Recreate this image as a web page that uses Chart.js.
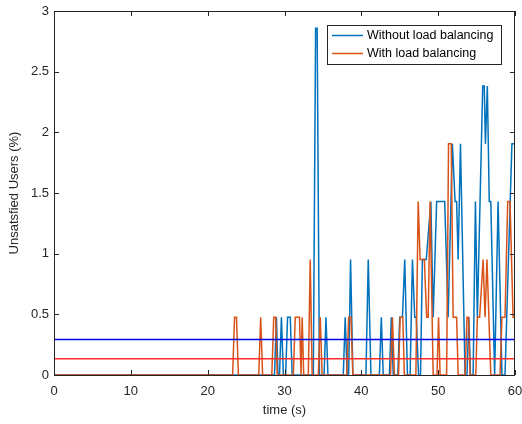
<!DOCTYPE html>
<html>
<head>
<meta charset="utf-8">
<script src="https://cdn.jsdelivr.net/npm/chart.js@4/dist/chart.umd.min.js"></script>
<style>
  html, body { margin: 0; padding: 0; background: #fff; }
  #wrap { width: 522px; height: 424px; position: relative; }
</style>
</head>
<body>
<div id="wrap"><canvas id="c"></canvas></div>
<script>
// series (time in s, unsatisfied users in %)
const blueTimes = [0, 28.7, 28.95, 29.15, 29.35, 29.6, 29.85, 30.15, 30.4, 30.75, 31.0, 33.75, 34.05, 34.25, 34.55,
  35.15, 35.4, 35.65, 37.65, 37.9, 38.15, 38.35, 38.6, 38.9, 40.6, 40.9, 41.25, 42.35, 42.6, 42.85, 43.65, 43.9, 44.15,
  44.75, 45.0, 45.35, 45.65, 46.0, 46.35, 46.65, 46.95, 47.15, 47.45, 47.7, 47.95, 48.45, 49.05, 49.35, 49.8, 50.85,
  51.3, 51.85, 52.2, 52.4, 52.6, 52.9, 53.5, 53.75, 54.0, 54.2, 54.55, 54.85, 55.1, 55.8, 56.0, 56.15, 56.4, 56.65,
  56.85, 57.35, 57.8, 58.3, 58.7, 59.6, 60];
const blueValues = [0, 0, 0.476, 0, 0, 0.476, 0, 0, 0.476, 0.476, 0, 0, 2.857, 2.857, 0,
  0, 0.476, 0, 0, 0.476, 0, 0, 0.952, 0, 0, 0.952, 0, 0, 0.476, 0, 0, 0.476, 0,
  0, 0.476, 0.476, 0.952, 0, 0, 0.952, 0.476, 0.476, 0, 0, 0.952, 0.952, 1.429, 0.476, 1.429, 1.429,
  0.476, 1.905, 1.429, 1.429, 0.952, 1.905, 0, 0, 0.476, 0, 0, 1.429, 0.476, 2.381, 2.381, 1.905, 2.381, 1.429,
  1.429, 0, 1.429, 0, 0, 1.905, 1.905];

const orangeTimes = [0, 23.25, 23.5, 23.75, 24.0, 26.65, 26.9, 27.15, 28.35, 28.6, 28.85, 29.05, 31.15, 31.4, 31.95,
  32.15, 32.3, 32.5, 33.1, 33.35, 33.6, 34.4, 34.65, 34.9, 38.1, 38.35, 38.65, 38.9, 43.8, 44.05, 44.3, 44.85, 45.05,
  45.4, 45.6, 47.1, 47.4, 47.65, 48.2, 48.5, 48.7, 48.95, 49.35, 49.85, 50.05, 50.25, 51.1, 51.35, 51.7, 51.95, 52.4,
  52.6, 53.5, 53.75, 53.95, 54.15, 54.9, 55.1, 55.4, 55.85, 56.1, 56.35, 56.6, 56.85, 58.05, 58.3, 58.7, 59.05, 59.35,
  59.75, 60];
const orangeValues = [0, 0, 0.476, 0.476, 0, 0, 0.476, 0, 0, 0.476, 0.476, 0, 0, 0.476, 0.476,
  0, 0.476, 0, 0, 0.952, 0, 0, 0.476, 0, 0, 0.476, 0.476, 0, 0, 0.476, 0, 0, 0.476,
  0.476, 0, 0, 1.429, 0.952, 0.952, 0.476, 0.476, 1.429, 0, 0, 0.476, 0, 0, 1.905, 1.905, 0.476, 0.476,
  0, 0, 0.476, 0.476, 0, 0, 0.476, 0.476, 0.952, 0.476, 0.952, 0.476, 0, 0, 0.476, 0.476, 1.429, 1.429,
  0.476, 0.476];

// mean levels drawn as flat lines
const meanWithout = 0.293;
const meanWith = 0.134;

const seriesLabels = ['Without load balancing', 'With load balancing'];
const timeRange = [0, 60];
const valueRange = [0, 3];

const FONT = '"Liberation Sans", Arial, Helvetica, sans-serif';
const AXIS = '#262626';

const toPoints = (ts, vs) => ts.map((t, i) => ({ x: t, y: vs[i] }));
const flat = v => timeRange.map(t => ({ x: t, y: v }));

// box + inward ticks on all four sides, like MATLAB
const frame = {
  id: 'frame',
  afterDatasetsDraw(chart) {
    const { ctx, chartArea: a, scales: { x, y } } = chart;
    ctx.save();
    ctx.strokeStyle = AXIS;
    ctx.lineWidth = 1;
    ctx.beginPath();
    x.ticks.forEach(t => {
      const px = Math.round(x.getPixelForValue(t.value)) + 0.5;
      ctx.moveTo(px, a.bottom); ctx.lineTo(px, a.bottom - 5);
      ctx.moveTo(px, a.top); ctx.lineTo(px, a.top + 5);
    });
    y.ticks.forEach(t => {
      const py = Math.round(y.getPixelForValue(t.value)) + 0.5;
      ctx.moveTo(a.left, py); ctx.lineTo(a.left + 5, py);
      ctx.moveTo(a.right, py); ctx.lineTo(a.right - 5, py);
    });
    ctx.stroke();
    ctx.strokeRect(a.left + 0.5, a.top + 0.5, a.right - a.left - 1, a.bottom - a.top);
    ctx.restore();
  }
};

// boxed legend in the upper right of the plot
const boxLegend = {
  id: 'boxLegend',
  afterDraw(chart) {
    const { ctx } = chart;
    const ds = seriesLabels.map(l => chart.data.datasets.find(d => d.label === l));
    const left = 327, top = 25, w = 174, h = 39;
    ctx.save();
    ctx.fillStyle = '#fff';
    ctx.fillRect(left, top, w, h);
    ctx.strokeStyle = AXIS;
    ctx.lineWidth = 1;
    ctx.strokeRect(left + 0.5, top + 0.5, w, h);
    ctx.font = '12.5px ' + FONT;
    ctx.textBaseline = 'middle';
    ds.forEach((d, i) => {
      const cy = top + 10.5 + i * 18;
      ctx.strokeStyle = d.borderColor;
      ctx.lineWidth = 1.5;
      ctx.beginPath();
      ctx.moveTo(left + 5, cy); ctx.lineTo(left + 36, cy);
      ctx.stroke();
      ctx.fillStyle = '#000';
      ctx.fillText(d.label, left + 40, cy);
    });
    ctx.restore();
  }
};

new Chart(document.getElementById('c'), {
  type: 'line',
  data: {
    datasets: [
      { label: seriesLabels[0], data: toPoints(blueTimes, blueValues), borderColor: '#0072BD',
        borderWidth: 1.5, order: 2 },
      { label: seriesLabels[1], data: toPoints(orangeTimes, orangeValues), borderColor: '#D95319',
        borderWidth: 1.5, order: 1 },
      { label: 'mean without', data: flat(meanWithout), borderColor: '#0000f0', borderWidth: 1.5, order: 0 },
      { label: 'mean with', data: flat(meanWith), borderColor: '#ff2a2a', borderWidth: 1.5, order: 0 }
    ]
  },
  options: {
    responsive: true,
    maintainAspectRatio: false,
    animation: false,
    devicePixelRatio: 1,
    layout: { padding: { top: 11, right: 7, left: 0, bottom: 0 } },
    elements: { point: { radius: 0 }, line: { tension: 0 } },
    plugins: { legend: { display: false }, tooltip: { enabled: false } },
    scales: {
      x: {
        type: 'linear',
        min: timeRange[0], max: timeRange[1],
        grid: { display: false, drawTicks: false },
        border: { display: false },
        ticks: { stepSize: 10, padding: 9, color: AXIS, font: { family: FONT, size: 13 } },
        title: { display: true, text: 'time (s)', color: AXIS, font: { family: FONT, size: 13 },
          padding: { top: 0, bottom: 6 } },
        afterFit: s => { s.height = 49; s.paddingLeft = 0; s.paddingRight = 0; }
      },
      y: {
        min: valueRange[0], max: valueRange[1],
        grid: { display: false, drawTicks: false },
        border: { display: false },
        ticks: { stepSize: 0.5, padding: 5, color: AXIS, font: { family: FONT, size: 13 },
          callback: v => String(v) },
        title: { display: true, text: 'Unsatsfied Users (%)', color: AXIS, font: { family: FONT, size: 13 },
          padding: { top: 7, bottom: 0 } },
        afterFit: s => { s.width = 54; s.paddingTop = 0; s.paddingBottom = 0; }
      }
    }
  },
  plugins: [frame, boxLegend]
});
</script>
</body>
</html>
